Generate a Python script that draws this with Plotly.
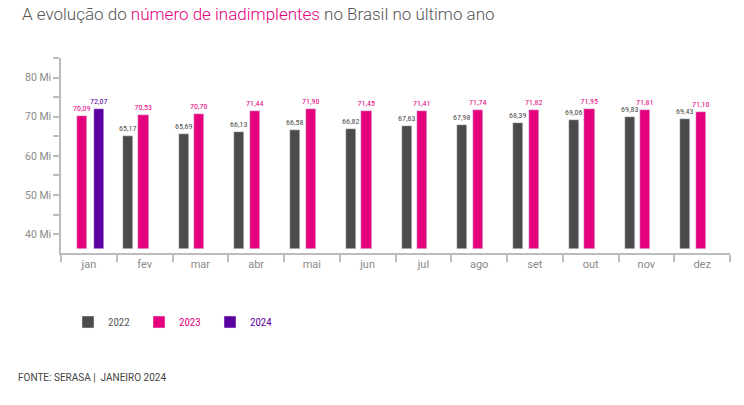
import plotly.graph_objects as go

months = ["jan", "fev", "mar", "abr", "mai", "jun", "jul", "ago", "set", "out", "nov", "dez"]
months_2022 = months[1:]
v2022 = [65.17, 65.69, 66.13, 66.58, 66.82, 67.63, 67.98, 68.39, 69.06, 69.83, 69.43]
v2023 = [70.09, 70.53, 70.70, 71.44, 71.90, 71.45, 71.41, 71.74, 71.82, 71.95, 71.81, 71.10]
months_2024 = ["jan"]
v2024 = [72.07]
ytick_vals = [40, 50, 60, 70, 80]
ytick_text = ["40 Mi", "50 Mi", "60 Mi", "70 Mi", "80 Mi"]

BASE = 36.3
C22, C23, C24 = "#4b4b4b", "#e5007e", "#5b00a0"
LABEL_FONT = "Roboto Condensed, Liberation Sans Narrow, Roboto, sans-serif"

# plot-area geometry in pixels (for placing the footer annotation)
W_PX, H_PX = 744, 405
ML, MR, MT, MB = 61, 14, 58, 152
PW, PH = W_PX - ML - MR, H_PX - MT - MB

def fmt(v):
    return f"{v:.2f}".replace(".", ",")

fig = go.Figure()
W = 0.18
common = dict(textposition="outside", cliponaxis=False, constraintext="none", width=W)
fig.add_bar(x=months_2022, y=[v - BASE for v in v2022], base=BASE,
            name="<span style='color:#555555'>2022</span>", marker_color=C22,
            offset=-0.39, text=[fmt(v) for v in v2022],
            textfont=dict(color=C22, size=8, family=LABEL_FONT), **common)
fig.add_bar(x=months, y=[v - BASE for v in v2023], base=BASE,
            name="<span style='color:#e5007e'>2023</span>", marker_color=C23,
            offset=[-0.21] + [-0.11] * 11, text=[fmt(v) for v in v2023],
            textfont=dict(color=C23, size=8, family=LABEL_FONT), **common)
fig.add_bar(x=months_2024, y=[v - BASE for v in v2024], base=BASE,
            name="<span style='color:#5b00a0'>2024</span>", marker_color=C24,
            offset=0.09, text=[fmt(v) for v in v2024],
            textfont=dict(color=C24, size=8, family=LABEL_FONT), **common)

fig.update_layout(
    width=W_PX, height=H_PX,
    margin=dict(l=ML, r=MR, t=MT, b=MB),
    paper_bgcolor="white", plot_bgcolor="white",
    barmode="overlay",
    font=dict(family="Roboto, sans-serif", color="#888888"),
    showlegend=True,
    legend=dict(orientation="h", xref="container", x=68 / W_PX, xanchor="left",
                yref="container", y=1 - 322 / H_PX, yanchor="middle",
                font=dict(size=11, color="#555555", family=LABEL_FONT), entrywidth=26,
                bgcolor="rgba(0,0,0,0)", traceorder="normal"),
    title=dict(text="A evolução do <span style='color:#e5007e'>número de inadimplentes</span> no Brasil no último ano",
               xref="container", x=22 / W_PX, xanchor="left",
               yref="container", y=1 - 14 / H_PX, yanchor="middle",
               font=dict(size=17, color="#555555", family="Roboto, sans-serif", weight=300)),
    bargap=0,
)
fig.update_xaxes(
    type="category", categoryorder="array", categoryarray=months,
    showline=True, linecolor="#bdbdbd", linewidth=1.5,
    ticks="outside", tickson="boundaries", ticklen=7, tickcolor="#bdbdbd", tickwidth=1.5,
    tickfont=dict(size=11, color="#8a8a8a"), showgrid=False, zeroline=False,
    range=[-0.5, 11.5],
)
fig.update_yaxes(
    range=[35.2, 85], tickvals=ytick_vals, ticktext=ytick_text,
    showline=True, linecolor="#bdbdbd", linewidth=1.5,
    ticks="outside", ticklen=6, tickcolor="#bdbdbd", tickwidth=1.5,
    minor=dict(tickvals=[45, 55, 65, 75, 85], ticks="outside", ticklen=6,
               tickcolor="#bdbdbd", tickwidth=1.5, showgrid=False),
    tickfont=dict(size=10.5, color="#8a8a8a"), showgrid=False, zeroline=False,
)
fig.add_annotation(text="FONTE: SERASA |  JANEIRO 2024", xref="paper", yref="paper",
                   x=(16 - ML) / PW, y=(H_PX - MB - 377) / PH, xanchor="left", yanchor="middle",
                   showarrow=False, font=dict(size=10, color="#444444"))
fig.write_html("out.html")
